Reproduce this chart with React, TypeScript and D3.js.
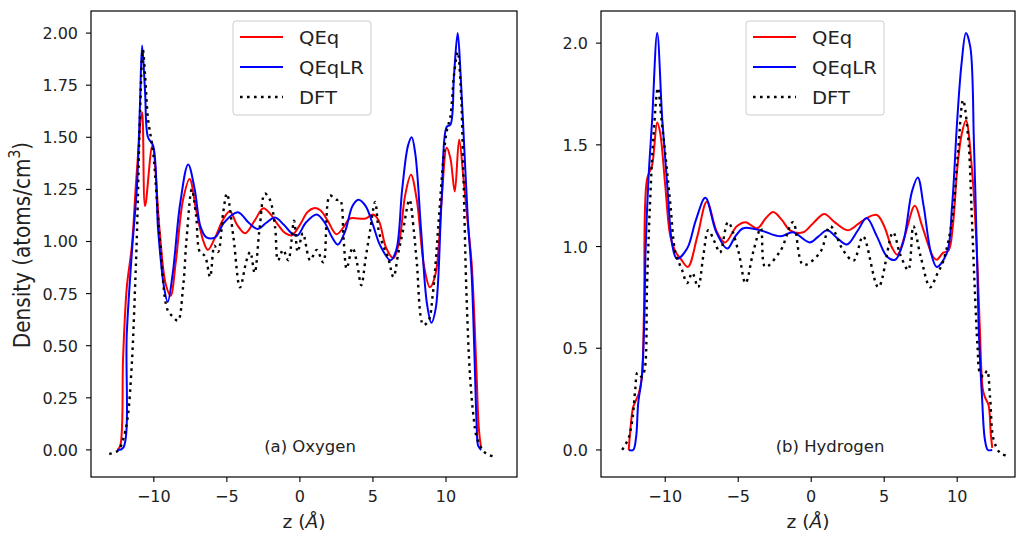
import React from 'react';
import * as d3 from 'd3';

type P = [number, number];

// ---------- Data: (a) Oxygen ----------
const oxQEq: P[] = [
  [-12.5, 0], [-12.3, 0.02], [-12.1, 0.45], [-11.85, 0.78], [-11.5, 0.98], [-11.2, 1.3], [-10.8, 1.62],
  [-10.6, 1.17], [-10.1, 1.46], [-9.6, 1.05], [-9.2, 0.8], [-8.85, 0.74], [-8.5, 0.9], [-8.0, 1.2],
  [-7.55, 1.3], [-7.1, 1.15], [-6.6, 1.0], [-6.3, 0.96], [-5.8, 1.02], [-5.3, 1.1], [-4.8, 1.145],
  [-4.3, 1.08], [-3.75, 1.04], [-3.1, 1.1], [-2.5, 1.16], [-2.0, 1.13], [-1.5, 1.08], [-1.0, 1.04],
  [-0.55, 1.03], [0, 1.08], [0.5, 1.14], [0.95, 1.16], [1.4, 1.15], [1.9, 1.1], [2.5, 1.035],
  [3.0, 1.07], [3.4, 1.11], [4.0, 1.11], [4.5, 1.11], [5.0, 1.13], [5.4, 1.1], [5.9, 0.97],
  [6.4, 0.92], [6.8, 1.0], [7.2, 1.22], [7.6, 1.32], [8.0, 1.2], [8.5, 0.88], [8.9, 0.78],
  [9.3, 0.85], [9.7, 1.2], [10.05, 1.45], [10.3, 1.4], [10.6, 1.24], [10.9, 1.49], [11.2, 1.3],
  [11.5, 1.08], [11.75, 0.9], [11.95, 0.62], [12.1, 0.35], [12.25, 0.1], [12.4, 0.01],
];
const oxQEqLR: P[] = [
  [-12.5, 0], [-12.1, 0.01], [-11.85, 0.56], [-11.5, 0.95], [-11.15, 1.27], [-10.95, 1.65], [-10.8, 1.94],
  [-10.6, 1.72], [-10.4, 1.5], [-10.05, 1.46], [-9.7, 1.05], [-9.3, 0.78], [-9.05, 0.71], [-8.7, 0.85],
  [-8.2, 1.18], [-7.65, 1.37], [-7.2, 1.25], [-6.8, 1.07], [-6.4, 1.02], [-5.8, 1.02], [-5.2, 1.09],
  [-4.25, 1.14], [-3.5, 1.09], [-2.9, 1.06], [-2.3, 1.09], [-1.7, 1.115], [-1.1, 1.08], [-0.5, 1.035],
  [-0.15, 1.03], [0.4, 1.09], [1.15, 1.13], [1.7, 1.09], [2.2, 1.02], [2.6, 0.985], [3.1, 1.05],
  [3.6, 1.17], [4.0, 1.2], [4.5, 1.17], [5.0, 1.08], [5.5, 0.98], [6.2, 0.91], [6.6, 0.96],
  [7.0, 1.25], [7.4, 1.46], [7.65, 1.5], [7.9, 1.42], [8.3, 1.05], [8.7, 0.7], [9.0, 0.61],
  [9.3, 0.68], [9.7, 1.2], [10.05, 1.55], [10.3, 1.56], [10.55, 1.8], [10.8, 2.0], [11.0, 1.8],
  [11.25, 1.45], [11.5, 1.1], [11.75, 0.85], [11.95, 0.45], [12.1, 0.12], [12.2, 0.02], [12.4, 0],
];
const oxDFT: P[] = [
  [-13.05, -0.02], [-12.6, -0.01], [-12.4, 0.0], [-12.1, 0.05], [-11.8, 0.15], [-11.5, 0.42], [-11.3, 0.75],
  [-11.15, 1.05], [-10.95, 1.6], [-10.75, 1.92], [-10.6, 1.8], [-10.4, 1.59], [-10.05, 1.43], [-9.6, 1.02],
  [-9.05, 0.67], [-8.7, 0.64], [-8.35, 0.62], [-8.0, 0.78], [-7.75, 1.02], [-7.4, 1.25], [-7.1, 1.12],
  [-6.85, 0.95], [-6.5, 0.93], [-6.15, 0.83], [-5.85, 0.98], [-5.6, 0.95], [-5.25, 1.14], [-5.0, 1.23],
  [-4.55, 1.02], [-4.1, 0.78], [-3.65, 0.91], [-3.4, 0.95], [-3.1, 0.85], [-2.75, 1.07], [-2.4, 1.23],
  [-2.05, 1.2], [-1.7, 1.07], [-1.5, 0.91], [-1.15, 0.96], [-0.8, 0.91], [-0.4, 1.1], [-0.15, 0.95],
  [0.2, 1.04], [0.7, 0.91], [1.15, 0.96], [1.6, 0.9], [2.05, 1.22], [2.5, 1.2], [2.75, 1.2],
  [3.0, 1.0], [3.2, 0.87], [3.6, 0.97], [3.9, 0.9], [4.2, 0.79], [4.5, 0.92], [4.8, 1.05],
  [5.15, 1.19], [5.4, 1.05], [5.7, 0.98], [6.05, 0.92], [6.4, 0.83], [6.75, 0.95], [7.05, 1.05],
  [7.5, 1.2], [7.8, 1.05], [8.0, 0.9], [8.45, 0.6], [8.8, 0.62], [9.1, 0.75], [9.5, 1.1],
  [9.8, 1.38], [10.05, 1.53], [10.3, 1.6], [10.55, 1.8], [10.8, 1.91], [11.0, 1.75], [11.2, 1.3],
  [11.4, 0.75], [11.65, 0.35], [11.9, 0.15], [12.1, 0.06], [12.5, 0.0], [12.8, -0.02], [13.2, -0.03],
];

// ---------- Data: (b) Hydrogen ----------
const hyQEq: P[] = [
  [-12.5, 0], [-12.35, 0.13], [-12.2, 0.21], [-12.0, 0.245], [-11.8, 0.28], [-11.6, 0.36], [-11.45, 0.7],
  [-11.25, 1.33], [-10.9, 1.4], [-10.55, 1.61], [-10.35, 1.56], [-10.0, 1.3], [-9.65, 1.05], [-9.3, 0.975],
  [-8.95, 0.94], [-8.45, 0.9], [-7.8, 1.05], [-7.15, 1.22], [-6.45, 1.07], [-5.9, 1.02], [-5.1, 1.1],
  [-4.5, 1.12], [-3.7, 1.09], [-3.1, 1.14], [-2.6, 1.17], [-2.0, 1.13], [-1.45, 1.08], [-0.55, 1.07],
  [0.2, 1.12], [0.9, 1.16], [1.6, 1.12], [2.5, 1.08], [3.2, 1.11], [3.8, 1.14], [4.5, 1.155],
  [5.0, 1.1], [5.5, 1.0], [5.9, 0.96], [6.4, 1.05], [7.1, 1.2], [7.6, 1.1], [8.35, 0.95],
  [8.6, 0.935], [9.05, 0.97], [9.4, 0.98], [9.7, 1.1], [10.0, 1.38], [10.3, 1.55], [10.6, 1.62],
  [11.0, 1.39], [11.35, 0.97], [11.55, 0.6], [11.75, 0.3], [11.9, 0.26], [12.15, 0.22], [12.3, 0.08],
  [12.4, 0.01],
];
const hyQEqLR: P[] = [
  [-12.5, 0], [-12.2, 0.0], [-12.0, 0.06], [-11.85, 0.23], [-11.6, 0.36], [-11.45, 0.6], [-11.35, 0.97],
  [-11.15, 1.33], [-10.9, 1.62], [-10.55, 2.05], [-10.2, 1.62], [-9.85, 1.29], [-9.5, 1.0], [-9.2, 0.94],
  [-8.5, 0.99], [-7.9, 1.13], [-7.25, 1.24], [-6.5, 1.07], [-5.75, 0.99], [-5.2, 1.05], [-4.65, 1.09],
  [-3.5, 1.08], [-2.1, 1.05], [-1.25, 1.07], [-0.1, 1.02], [0.5, 1.05], [1.1, 1.08], [1.8, 1.04],
  [2.45, 1.01], [3.2, 1.08], [3.8, 1.14], [4.5, 1.05], [5.2, 0.95], [5.75, 0.935], [6.3, 1.02],
  [6.9, 1.27], [7.3, 1.34], [7.7, 1.2], [8.2, 0.97], [8.6, 0.9], [9.3, 0.97], [9.65, 1.2],
  [10.0, 1.62], [10.3, 1.9], [10.6, 2.05], [10.9, 1.98], [11.15, 1.5], [11.35, 0.97], [11.5, 0.55],
  [11.7, 0.26], [11.9, 0.05], [12.1, 0.0], [12.4, 0],
];
const hyDFT: P[] = [
  [-12.95, 0], [-12.7, 0.03], [-12.5, 0.06], [-12.25, 0.15], [-12.05, 0.3], [-11.9, 0.38], [-11.6, 0.36],
  [-11.4, 0.4], [-11.25, 0.8], [-11.05, 1.2], [-10.8, 1.55], [-10.5, 1.78], [-10.25, 1.62], [-10.0, 1.46],
  [-9.65, 1.21], [-9.3, 0.97], [-8.85, 0.885], [-8.5, 0.82], [-8.15, 0.87], [-7.75, 0.8], [-7.4, 0.95],
  [-7.05, 1.08], [-6.6, 1.02], [-6.25, 0.97], [-5.7, 1.12], [-5.0, 0.98], [-4.5, 0.82], [-3.95, 0.98],
  [-3.45, 1.09], [-3.15, 0.9], [-2.1, 0.98], [-1.25, 1.12], [-0.55, 0.91], [0.6, 0.97], [1.3, 1.1],
  [2.2, 0.98], [2.9, 0.93], [3.55, 1.05], [4.6, 0.8], [5.6, 1.07], [6.1, 0.96], [6.65, 0.885],
  [7.0, 1.1], [7.5, 0.95], [8.15, 0.8], [8.6, 0.86], [9.05, 0.93], [9.65, 1.13], [10.05, 1.46],
  [10.4, 1.72], [10.75, 1.54], [11.0, 1.15], [11.2, 0.8], [11.4, 0.5], [11.55, 0.38], [11.8, 0.36],
  [12.05, 0.39], [12.25, 0.26], [12.5, 0.05], [12.95, -0.015], [13.5, -0.03],
];

// ---------- Tick labels ----------
const xTicks = [-10, -5, 0, 5, 10];
const oxYTicks = [0, 0.25, 0.5, 0.75, 1.0, 1.25, 1.5, 1.75, 2.0];
const hyYTicks = [0, 0.5, 1.0, 1.5, 2.0];
const seriesNames = ['QEq', 'QEqLR', 'DFT'];
const panelLabels = ['(a) Oxygen', '(b) Hydrogen'];

const FONT = "'DejaVu Sans', sans-serif";
const TXT = '#222';

function T({ x, y, size, sx = 1, anchor = 'start', children }: any) {
  return (
    <text
      transform={`translate(${x},${y}) scale(${sx},1)`}
      fontFamily={FONT}
      fontSize={size}
      textAnchor={anchor}
      fill={TXT}
    >
      {children}
    </text>
  );
}

function Panel({ left, right, top, bottom, xDom, yDom, yTicks, yDec, data, label, legendX, labelX }: any) {
  const x = d3.scaleLinear().domain(xDom).range([left, right]);
  const y = d3.scaleLinear().domain(yDom).range([bottom, top]);
  const line = d3
    .line<P>()
    .x((d) => x(d[0]))
    .y((d) => y(d[1]))
    .curve(d3.curveCatmullRom.alpha(0.5));
  const [q, qlr, dft] = data;
  const legendRows = [
    { name: seriesNames[0], color: '#ff0000', dash: undefined },
    { name: seriesNames[1], color: '#0000ff', dash: undefined },
    { name: seriesNames[2], color: '#000000', dash: '2.6,4.4' },
  ];
  return (
    <g>
      <path d={line(q) || ''} fill="none" stroke="#ff0000" strokeWidth={2} />
      <path d={line(qlr) || ''} fill="none" stroke="#0000ff" strokeWidth={2} />
      <path d={line(dft) || ''} fill="none" stroke="#000" strokeWidth={2.4} strokeDasharray="2.6,4.4" />
      <rect x={left} y={top} width={right - left} height={bottom - top} fill="none" stroke="#000" strokeWidth={1.2} />
      {yTicks.map((t: number) => (
        <g key={t}>
          <line x1={left - 5} x2={left} y1={y(t)} y2={y(t)} stroke="#000" strokeWidth={1.1} />
          <T x={left - 13} y={y(t) + 6} size={16} anchor="end">
            {t.toFixed(yDec)}
          </T>
        </g>
      ))}
      {xTicks.map((t: number) => (
        <g key={t}>
          <line x1={x(t)} x2={x(t)} y1={bottom} y2={bottom + 5} stroke="#000" strokeWidth={1.1} />
          <T x={x(t)} y={bottom + 25} size={16} anchor="middle">
            {t < 0 ? '\u2212' + Math.abs(t) : String(t)}
          </T>
        </g>
      ))}
      <text
        transform={`translate(${(left + right) / 2},${bottom + 51}) scale(1.1,1)`}
        fontFamily={FONT}
        fontSize={17}
        textAnchor="middle"
        fill={TXT}
      >
        z (<tspan fontStyle="italic">Å</tspan>)
      </text>
      <T x={labelX} y={y(0) + 2} size={15} sx={1.1} anchor="middle">
        {label}
      </T>
      <g>
        <rect
          x={legendX}
          y={21}
          width={138}
          height={94}
          rx={3}
          fill="#fff"
          fillOpacity={0.8}
          stroke="#cccccc"
          strokeWidth={1}
        />
        {legendRows.map((r, i) => {
          const ly = 37 + i * 30;
          return (
            <g key={r.name}>
              <line
                x1={legendX + 7}
                x2={legendX + 50}
                y1={ly}
                y2={ly}
                stroke={r.color}
                strokeWidth={r.dash ? 2.4 : 2}
                strokeDasharray={r.dash}
              />
              <T x={legendX + 66} y={ly + 6.5} size={17.5} sx={1.12}>
                {r.name}
              </T>
            </g>
          );
        })}
      </g>
    </g>
  );
}

export default function App() {
  return (
    <svg
      width={1016}
      height={534}
      style={{ position: 'absolute', left: 0, top: 0, background: '#fff' }}
    >
      <rect x={0} y={0} width={1016} height={534} fill="#fff" />
      <Panel
        left={91}
        right={517}
        top={11}
        bottom={477}
        xDom={[-14.3, 14.86]}
        yDom={[-0.13, 2.106]}
        yTicks={oxYTicks}
        yDec={2}
        data={[oxQEq, oxQEqLR, oxDFT]}
        label={panelLabels[0]}
        legendX={233}
        labelX={310}
      />
      <Panel
        left={601}
        right={1015}
        top={11}
        bottom={477}
        xDom={[-14.4, 13.96]}
        yDom={[-0.133, 2.158]}
        yTicks={hyYTicks}
        yDec={1}
        data={[hyQEq, hyQEqLR, hyDFT]}
        label={panelLabels[1]}
        legendX={746}
        labelX={830}
      />
      <text
        transform={`translate(29.5,245) scale(1.14,1) rotate(-90)`}
        fontFamily={FONT}
        fontSize={20}
        textAnchor="middle"
        fill={TXT}
      >
        Density (atoms/cm<tspan dy={-8} fontSize={14}>3</tspan>
        <tspan dy={8}>)</tspan>
      </text>
    </svg>
  );
}
